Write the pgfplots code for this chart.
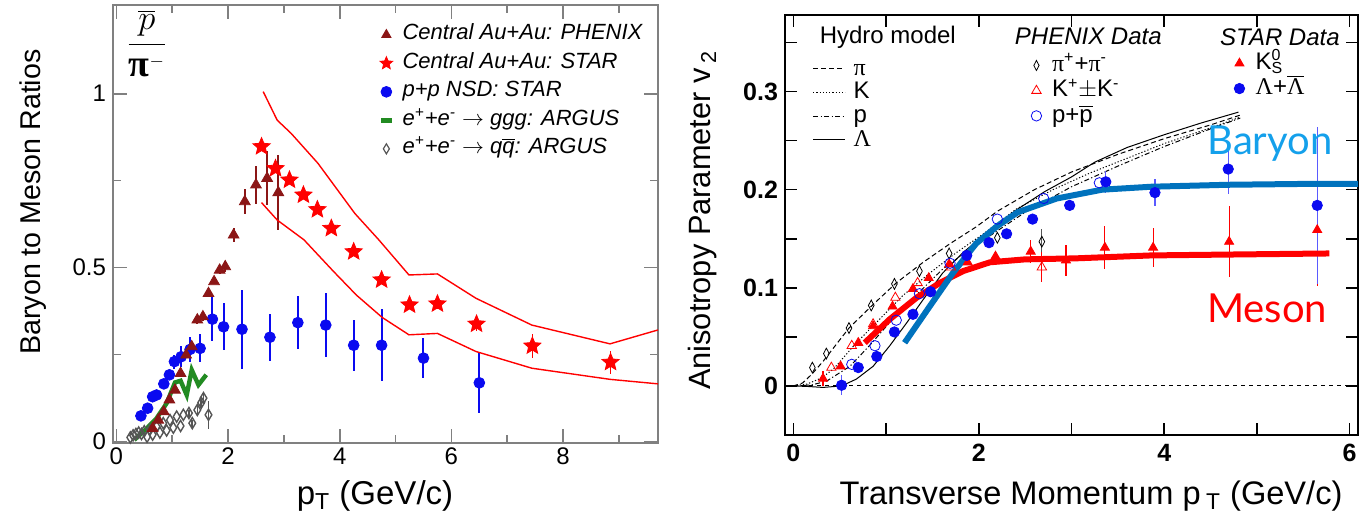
\documentclass[border=0pt]{standalone}
\usepackage{pgfplots}
\usepackage{pgfplotstable}
\pgfplotsset{compat=1.18}
\usepackage{fontspec}
\setmainfont{Liberation Sans}
\newfontfamily\grk{Liberation Serif}
\newfontfamily\lato{Lato}
\definecolor{phxred}{RGB}{139,22,22}
\definecolor{starred}{RGB}{255,0,0}
\definecolor{ppblue}{RGB}{10,10,240}
\definecolor{argusgreen}{RGB}{34,139,34}
\definecolor{diagray}{RGB}{85,85,85}
\definecolor{barblue}{RGB}{0,114,189}
\definecolor{labblue}{RGB}{20,160,235}
\definecolor{framegray}{RGB}{128,128,128}
\definecolor{errblue}{RGB}{90,90,255}

\pgfdeclareplotmark{fstar}{%
 \pgfpathmoveto{\pgfpointpolar{90}{\pgfplotmarksize}}%
 \pgfpathlineto{\pgfpointpolar{126}{0.45\pgfplotmarksize}}%
 \pgfpathlineto{\pgfpointpolar{162}{\pgfplotmarksize}}%
 \pgfpathlineto{\pgfpointpolar{198}{0.45\pgfplotmarksize}}%
 \pgfpathlineto{\pgfpointpolar{234}{\pgfplotmarksize}}%
 \pgfpathlineto{\pgfpointpolar{270}{0.45\pgfplotmarksize}}%
 \pgfpathlineto{\pgfpointpolar{306}{\pgfplotmarksize}}%
 \pgfpathlineto{\pgfpointpolar{342}{0.45\pgfplotmarksize}}%
 \pgfpathlineto{\pgfpointpolar{18}{\pgfplotmarksize}}%
 \pgfpathlineto{\pgfpointpolar{54}{0.45\pgfplotmarksize}}%
 \pgfpathclose
 \pgfusepathqfillstroke}

\pgfplotsset{
  markleg/.style={legend image code/.code={\draw[##1] plot coordinates {(0pt,0pt)};}},
  lineleg/.style={legend image code/.code={\draw[##1] (0pt,0pt) -- (16pt,0pt);}},
  shortleg/.style={legend image code/.code={\draw[##1] (-2.6pt,0pt) -- (2.6pt,0pt);}},
  errs/.style={error bars/.cd, y dir=both, y explicit, error mark=none},
}

% ---------- left panel data ----------
\pgfplotstableread{
x y e
0.65 0.038 0
0.75 0.062 0
0.85 0.086 0
0.95 0.120 0
1.05 0.148 0
1.15 0.196 0
1.25 0.249 0
1.35 0.273 0
1.45 0.350 0.012
1.55 0.359 0.012
1.65 0.426 0
1.75 0.460 0
1.85 0.493 0.012
1.95 0.503 0.015
2.10 0.594 0.020
2.30 0.690 0.036
2.50 0.738 0.055
2.70 0.757 0.077
2.90 0.716 0.108
}\phenixratio
\pgfplotstableread{
x y e
2.60 0.848 0.010
2.85 0.785 0.010
3.10 0.752 0.010
3.35 0.709 0.010
3.60 0.667 0.010
3.85 0.613 0.010
4.25 0.546 0.010
4.75 0.465 0.012
5.25 0.393 0.012
5.75 0.396 0.015
6.45 0.338 0.020
7.45 0.275 0.034
8.85 0.228 0.033
}\starratio
\pgfplotstableread{
x y e
0.44 0.074 0
0.56 0.096 0
0.65 0.129 0
0.72 0.134 0
0.85 0.166 0
0.95 0.192 0
1.04 0.230 0.020
1.16 0.244 0.030
1.32 0.265 0.035
1.50 0.268 0.040
1.72 0.352 0.063
1.92 0.330 0.068
2.25 0.323 0.113
2.75 0.300 0.067
3.25 0.342 0.076
3.75 0.335 0.092
4.25 0.277 0.074
4.75 0.277 0.104
5.50 0.240 0.058
6.50 0.169 0.087
}\ppratio
\pgfplotstableread{
x y
0.32 0.005
0.52 0.034
0.72 0.067
0.90 0.110
1.05 0.170
1.15 0.175
1.26 0.134
1.35 0.206
1.47 0.163
1.61 0.192
}\ggg
\pgfplotstableread{
x y e
0.25 0.012 0
0.30 0.018 0
0.35 0.022 0
0.40 0.026 0
0.45 0.022 0
0.50 0.030 0
0.55 0.014 0
0.60 0.034 0
0.65 0.020 0
0.72 0.043 0
0.78 0.026 0
0.84 0.053 0
0.90 0.032 0
0.96 0.062 0
1.02 0.040 0
1.08 0.072 0
1.15 0.045 0
1.20 0.077 0
1.30 0.082 0.010
1.36 0.053 0.010
1.45 0.091 0.015
1.52 0.112 0.015
1.56 0.125 0.015
1.65 0.077 0.040
}\qqbar
\pgfplotstableread{
x y
2.63 1.006
2.88 0.924
3.13 0.886
3.61 0.800
4.27 0.656
4.70 0.580
5.24 0.479
5.75 0.482
6.44 0.412
7.44 0.335
8.84 0.281
9.70 0.321
}\bandup
\pgfplotstableread{
x y
2.60 0.687
2.88 0.637
3.36 0.580
3.89 0.489
4.30 0.421
4.76 0.357
5.24 0.307
5.75 0.311
6.44 0.259
7.44 0.211
8.84 0.179
9.70 0.166
}\banddn

% ---------- right panel data ----------
\pgfplotstableread{
x y
-0.09 0
0 0
0.1 0.003
0.2 0.012
0.32 0.025
0.6 0.059
0.86 0.083
1.11 0.105
1.4 0.126
1.69 0.145
1.97 0.162
2.2 0.178
2.6 0.200
3.0 0.218
3.5 0.236
4.0 0.252
4.5 0.266
4.82 0.276
}\hydpi
\pgfplotstableread{
x y
0 0
0.15 0.002
0.3 0.008
0.43 0.017
0.68 0.044
0.93 0.068
1.18 0.092
1.47 0.115
1.76 0.136
2.05 0.155
2.4 0.180
2.8 0.200
3.2 0.217
3.6 0.232
4.0 0.247
4.5 0.263
4.82 0.274
}\hydk
\pgfplotstableread{
x y
0 0
0.2 0.001
0.36 0.005
0.61 0.020
0.82 0.041
1.07 0.068
1.33 0.093
1.61 0.119
1.9 0.139
2.12 0.153
2.5 0.177
3.0 0.203
3.5 0.224
4.0 0.244
4.5 0.262
4.82 0.273
}\hydp
\pgfplotstableread{
x y
-0.09 0
0 0
0.15 -0.0005
0.32 -0.0015
0.52 0.0
0.68 0.007
0.86 0.020
1.04 0.041
1.22 0.064
1.4 0.088
1.61 0.115
1.83 0.136
2.05 0.153
2.4 0.179
2.71 0.198
3.0 0.213
3.25 0.228
3.6 0.243
4.0 0.256
4.4 0.268
4.8 0.279
}\hydl
\pgfplotstableread{
x y e
0.205 0.0187 0
0.356 0.033 0
0.60 0.059 0
0.84 0.082 0
1.09 0.104 0
1.36 0.117 0
1.68 0.135 0
2.20 0.151 0
2.68 0.147 0.013
}\phxpi
\pgfplotstableread{
x y e
0.41 0.0187 0
0.63 0.041 0
0.86 0.063 0
1.10 0.090 0
1.34 0.105 0
1.70 0.121 0
2.68 0.121 0.015
}\phxk
\pgfplotstableread{
x y e
0.63 0.022 0
0.88 0.041 0
1.11 0.067 0
1.36 0.094 0
1.69 0.125 0
2.20 0.170 0
2.70 0.191 0
3.30 0.207 0
}\phxp
\pgfplotstableread{
x y e
0.32 0.0075 0.008
0.51 0.020 0
0.70 0.044 0
0.86 0.061 0
1.07 0.081 0
1.29 0.099 0
1.46 0.110 0
1.68 0.124 0
1.88 0.126 0
2.18 0.132 0
2.56 0.137 0.012
2.94 0.128 0.016
3.36 0.141 0.022
3.88 0.141 0.020
4.70 0.147 0.036
5.65 0.159 0.057
}\starks
\pgfplotstableread{
x y e
0.52 0.0007 0.010
0.70 0.0187 0
0.90 0.030 0
1.09 0.055 0
1.29 0.073 0
1.48 0.096 0
1.87 0.133 0
2.11 0.146 0
2.30 0.155 0
2.58 0.170 0
2.98 0.184 0
3.37 0.208 0.011
3.90 0.197 0.014
4.69 0.221 0.025
5.65 0.184 0.080
}\starlam
\pgfplotstableread{
x y
0.77 0.044
1.04 0.068
1.33 0.090
1.58 0.105
1.83 0.117
2.12 0.126
2.50 0.129
3.04 0.130
3.86 0.133
4.80 0.134
5.78 0.135
}\mesonline
\pgfplotstableread{
x y
1.20 0.044
1.47 0.081
1.72 0.115
1.97 0.145
2.20 0.163
2.42 0.177
2.84 0.191
3.33 0.200
3.86 0.203
4.69 0.205
5.64 0.206
6.09 0.206
}\baryonline

\begin{document}
\begin{tikzpicture}
\useasboundingbox (0,0) rectangle (681.5pt,258pt);

% ================= LEFT PANEL =================
\begin{axis}[
  at={(56.5pt,36.5pt)}, anchor=south west,
  scale only axis, width=272.5pt, height=219pt,
  xmin=-0.06, xmax=9.7, ymin=-0.004, ymax=1.255,
  axis line style={framegray, line width=1pt},
  every tick/.style={framegray, line width=0.8pt},
  xtick={0,2,4,6,8}, xticklabels={0,2,4,6,8},
  minor xtick={1,3,5,7,9},
  ytick={0,0.5,1}, yticklabels={0,0.5,1},
  minor ytick={0.25,0.75},
  tick align=inside,
  major tick length=7pt, minor tick length=4pt,
  tick label style={font=\fontsize{12}{14}\selectfont},
  xticklabel style={yshift=1pt},
  legend style={at={(0.488,0.957)}, anchor=north west, draw=none, fill=none,
    inner sep=0pt, outer sep=0pt, row sep=3.25pt, column sep=4.4pt,
    font=\fontsize{11}{13}\selectfont\itshape,
    nodes={inner sep=0pt, text height=8pt, text depth=3pt}},
  legend cell align=left,
]
\addplot[forget plot, diagray, line width=0.7pt, only marks, mark=diamond, mark size=2.8pt,
  mark options={xscale=0.8, fill=white}, errs, error bar style={diagray, line width=0.8pt}]
  table[x=x, y=y, y error=e] {\qqbar};
\addplot[forget plot, argusgreen, line width=2.2pt, no marks] table[x=x, y=y] {\ggg};
\addplot[forget plot, ppblue, only marks, mark=*, mark size=2.7pt, errs,
  error bar style={ppblue, line width=1pt}] table[x=x, y=y, y error=e] {\ppratio};
\addplot[forget plot, phxred, only marks, mark=triangle*, mark size=3.1pt, errs,
  error bar style={phxred, line width=1pt}] table[x=x, y=y, y error=e] {\phenixratio};
\addplot[forget plot, starred, only marks, mark=fstar, mark size=4.5pt, errs,
  error bar style={starred, line width=0.8pt}] table[x=x, y=y, y error=e] {\starratio};
\addplot[forget plot, starred, line width=0.7pt, no marks] table[x=x, y=y] {\bandup};
\addplot[forget plot, starred, line width=0.7pt, no marks] table[x=x, y=y] {\banddn};

\node[font=\fontsize{19}{22}\selectfont] at (rel axis cs:0.062,0.912) {$\displaystyle\frac{\overline{p}}{\mbox{\grk\bfseries π}^{\scriptscriptstyle -}}$};

\addlegendimage{markleg, mark=triangle*, mark size=2.7pt, draw=phxred, fill=phxred}
\addlegendentry{Central Au+Au: PHENIX}
\addlegendimage{markleg, mark=fstar, mark size=3.3pt, draw=starred, fill=starred}
\addlegendentry{Central Au+Au: STAR}
\addlegendimage{markleg, mark=*, mark size=2.7pt, draw=ppblue, fill=ppblue}
\addlegendentry{p+p NSD: STAR}
\addlegendimage{shortleg, argusgreen, line width=2.2pt}
\addlegendentry{e\textsuperscript{+}+e\textsuperscript{-} $\rightarrow$ ggg: ARGUS}
\addlegendimage{markleg, mark=diamond, mark size=2.5pt, draw=diagray, line width=0.6pt, mark options={xscale=0.8}}
\addlegendentry{e\textsuperscript{+}+e\textsuperscript{-} $\rightarrow$ q$\overline{\mbox{\itshape q}}$: ARGUS}
\end{axis}

% ================= RIGHT PANEL: hydro curves + legend =================
\begin{axis}[
  at={(392.5pt,40.5pt)}, anchor=south west,
  scale only axis, width=286.5pt, height=210pt,
  xmin=-0.09, xmax=6.09, ymin=-0.05, ymax=0.378,
  hide axis,
  legend style={at={(0.0484,0.898)}, anchor=north west, draw=none, fill=none,
    inner sep=0pt, outer sep=0pt, row sep=0.85pt, column sep=4pt,
    font=\fontsize{12}{14}\selectfont,
    nodes={inner sep=0pt, text height=8.6pt, text depth=2.4pt}},
  legend cell align=left,
]
\addplot[lineleg, black, line width=0.5pt, dash pattern=on 2.5pt off 1.5pt, no marks] table[x=x,y=y] {\hydpi};
\addlegendentry{{\grk π}}
\addplot[lineleg, black, line width=0.5pt, dash pattern=on 0.6pt off 1pt, no marks] table[x=x,y=y] {\hydk};
\addlegendentry{K}
\addplot[lineleg, black, line width=0.5pt, dash pattern=on 2.5pt off 1.2pt on 0.6pt off 1.2pt, no marks] table[x=x,y=y] {\hydp};
\addlegendentry{p}
\addplot[lineleg, black, line width=0.5pt, no marks] table[x=x,y=y] {\hydl};
\addlegendentry{{\grk Λ}}
\end{axis}

% ================= RIGHT PANEL: STAR legend overlay =================
\begin{axis}[
  at={(392.5pt,40.5pt)}, anchor=south west,
  scale only axis, width=286.5pt, height=210pt,
  xmin=-0.09, xmax=6.09, ymin=-0.05, ymax=0.378,
  hide axis,
  legend style={at={(0.784,0.911)}, anchor=north west, draw=none, fill=none,
    inner sep=0pt, outer sep=0pt, row sep=1.6pt, column sep=5.5pt,
    font=\fontsize{12}{14}\selectfont,
    nodes={inner sep=0pt, text height=8.6pt, text depth=2.4pt}},
  legend cell align=left,
]
\addlegendimage{markleg, mark=triangle*, mark size=2.6pt, draw=starred, fill=starred}
\addlegendentry{K\rlap{\textsuperscript{0}}\textsubscript{S}}
\addlegendimage{markleg, mark=*, mark size=2.6pt, draw=ppblue, fill=ppblue}
\addlegendentry{{\grk Λ}+$\overline{\mbox{\grk Λ}}$}
\end{axis}

% ================= RIGHT PANEL: main =================
\begin{axis}[
  at={(392.5pt,40.5pt)}, anchor=south west,
  scale only axis, width=286.5pt, height=210pt,
  xmin=-0.09, xmax=6.09, ymin=-0.05, ymax=0.378,
  axis line style={black, line width=1pt},
  every tick/.style={black, line width=0.8pt},
  xtick={0,2,4,6}, xticklabels={0,2,4,6},
  minor xtick={1,3,5},
  ytick={0,0.1,0.2,0.3}, yticklabels={0,0.1,0.2,0.3},
  minor ytick={-0.05,0.05,0.15,0.25,0.35},
  tick align=inside,
  major tick length=6pt, minor tick length=6pt,
  tick label style={font=\fontsize{12.5}{14}\selectfont\bfseries},
  xticklabel style={yshift=-1pt},
  legend style={at={(0.4297,0.906)}, anchor=north west, draw=none, fill=none,
    inner sep=0pt, outer sep=0pt, row sep=1.6pt, column sep=5.2pt,
    font=\fontsize{12}{14}\selectfont,
    nodes={inner sep=0pt, text height=8.6pt, text depth=2.4pt}},
  legend cell align=left,
]
\addplot[forget plot, black, line width=0.5pt, dash pattern=on 2pt off 2pt, no marks] coordinates {(0,0) (6.09,0)};
\addplot[forget plot, red, only marks, mark=triangle*, mark size=2.6pt, errs,
  error bar style={red, line width=0.6pt}] table[x=x,y=y,y error=e] {\starks};
\addplot[forget plot, ppblue, only marks, mark=*, mark size=2.6pt, errs,
  error bar style={errblue, line width=0.6pt}] table[x=x,y=y,y error=e] {\starlam};
\addplot[forget plot, black, only marks, mark=diamond, mark size=2.7pt, mark options={xscale=0.7, fill=white}, errs,
  error bar style={diagray, line width=0.6pt}] table[x=x,y=y,y error=e] {\phxpi};
\addplot[forget plot, red, only marks, mark=triangle, mark size=2.7pt, mark options={fill=white}, errs,
  error bar style={red, line width=0.6pt}] table[x=x,y=y,y error=e] {\phxk};
\addplot[forget plot, ppblue, only marks, mark=o, mark size=2.6pt, errs,
  error bar style={ppblue, line width=0.6pt}] table[x=x,y=y,y error=e] {\phxp};
\addplot[forget plot, red, line width=3pt, no marks] table[x=x,y=y] {\mesonline};
\addplot[forget plot, barblue, line width=3pt, no marks] table[x=x,y=y] {\baryonline};

\node[anchor=base, text=labblue, font=\lato\fontsize{20}{24}\selectfont] at (axis cs:5.14,0.236) {Baryon};
\node[anchor=base, text=red, font=\lato\fontsize{20}{24}\selectfont] at (axis cs:5.11,0.0645) {Meson};

\node[anchor=west, font=\fontsize{12}{14}\selectfont] at (rel axis cs:0.0484,0.948) {Hydro model};
\node[anchor=west, font=\fontsize{12}{14}\selectfont\itshape] at (rel axis cs:0.389,0.948) {PHENIX Data};
\node[anchor=west, font=\fontsize{12}{14}\selectfont\itshape] at (rel axis cs:0.747,0.948) {STAR Data};

\addlegendimage{markleg, mark=diamond, mark size=2.5pt, draw=black, mark options={xscale=0.7}}
\addlegendentry{{\grk π}\textsuperscript{+}+{\grk π}\textsuperscript{-}}
\addlegendimage{markleg, mark=triangle, mark size=2.7pt, draw=red}
\addlegendentry{K\textsuperscript{+}$\pm$K\textsuperscript{-}}
\addlegendimage{markleg, mark=o, mark size=2.6pt, draw=ppblue}
\addlegendentry{p+$\overline{\mbox{p}}$}
\end{axis}

% ================= axis titles =================
\node[rotate=90, font=\fontsize{14.3}{17}\selectfont] at (16.5pt,157pt) {Baryon to Meson Ratios};
\node[font=\fontsize{16.5}{19}\selectfont] at (187.5pt,10pt) {p\textsubscript{T} (GeV/c)};
\node[rotate=90, font=\fontsize{15.4}{18}\selectfont] at (351.5pt,148pt) {Anisotropy Parameter v\,\textsubscript{2}};
\node[font=\fontsize{16.3}{19}\selectfont] at (545.5pt,10pt) {Transverse Momentum p\,\textsubscript{T} (GeV/c)};
\end{tikzpicture}
\end{document}
